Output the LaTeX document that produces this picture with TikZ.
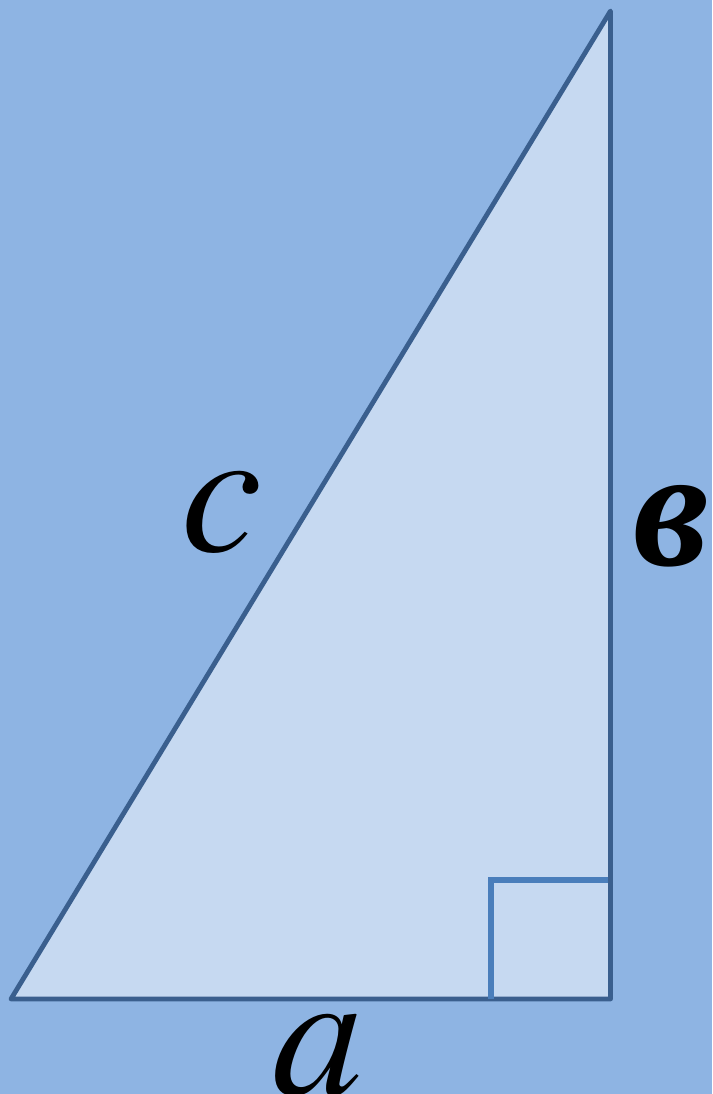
\documentclass[tikz,border=0pt]{standalone}
\usepackage{fontspec}
\setmainfont{Liberation Serif}
\newfontfamily\termes{TeX Gyre Termes}
\definecolor{bgblue}{HTML}{8EB4E3}
\definecolor{trifill}{HTML}{C6D9F1}
\definecolor{edge}{HTML}{3A5F8E}
\definecolor{sqline}{HTML}{4A7EBB}
\tikzset{
  lbl/.style={inner sep=0pt, anchor=base, font=\termes\fontsize{182}{182}\selectfont\itshape},
  lblcyr/.style={inner sep=0pt, anchor=base, font=\fontsize{170}{170}\selectfont\bfseries\itshape},
  tri/.style={draw=edge, fill=trifill, line width=4.8pt, line join=round},
  sq/.style={draw=sqline, line width=5.2pt}
}
\begin{document}
\begin{tikzpicture}[x=1pt,y=1pt]
\fill[bgblue] (0,0) rectangle (712,1094);
\useasboundingbox (0,0) rectangle (712,1094);
\coordinate (A) at (11,95);
\coordinate (B) at (610.5,95);
\coordinate (C) at (610.5,1083);
\coordinate (S1) at (491,95);
\coordinate (S2) at (491,214);
\coordinate (S3) at (610.5,214);
\draw[tri] (A) -- (B) -- (C) -- cycle;
\draw[sq] (S1) -- (S2) -- (S3);
\draw[edge, line width=4.8pt] (B) -- (C);
\node[lbl] (lc) at (222,542) {c};
\node[lblcyr] (lb) at (671,528) {в};
\node[lbl] (la) at (318,0) {a};
\end{tikzpicture}
\end{document}
